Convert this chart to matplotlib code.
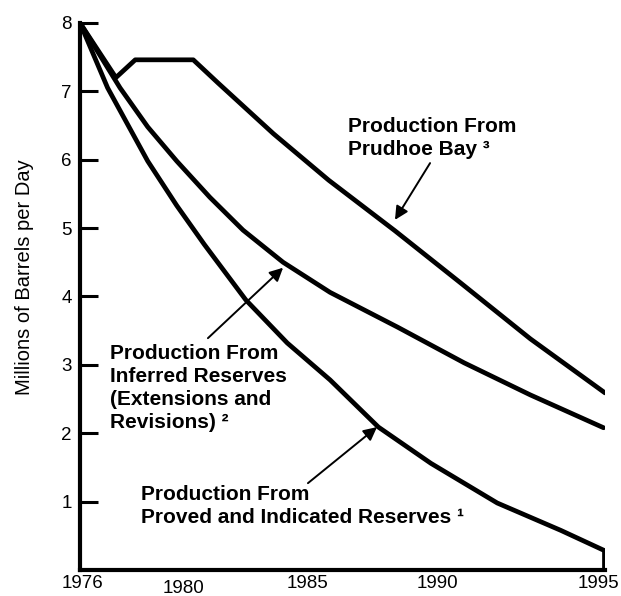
import matplotlib.pyplot as plt
from matplotlib.transforms import blended_transform_factory

plt.rcParams['font.family'] = ['Liberation Sans', 'DejaVu Sans']

# --- Data (millions of barrels per day) ---
prudhoe_years = [1976.0, 1977.3, 1978.0, 1980.1, 1981.0, 1983.0, 1985.0, 1987.4, 1989.8, 1992.3, 1995.0]
prudhoe_vals = [8.0, 7.2, 7.46, 7.46, 7.12, 6.38, 5.70, 4.96, 4.19, 3.38, 2.59]

inferred_years = [1976.0, 1977.45, 1978.45, 1979.5, 1980.7, 1981.9, 1983.35, 1985.05, 1987.5, 1989.9, 1992.3, 1994.95]
inferred_vals = [8.0, 7.05, 6.48, 5.98, 5.45, 4.97, 4.50, 4.06, 3.55, 3.03, 2.56, 2.08]

proved_years = [1976.0, 1977.0, 1978.45, 1979.5, 1980.5, 1982.0, 1983.5, 1985.05, 1986.8, 1988.7, 1991.1, 1993.4, 1994.95]
proved_vals = [8.0, 7.05, 5.98, 5.33, 4.76, 3.95, 3.32, 2.78, 2.09, 1.56, 0.98, 0.58, 0.29]

year_labels = ['1976', '1980', '1985', '1990', '1995']
y_ticks = [1, 2, 3, 4, 5, 6, 7, 8]

# --- Layout (where the printed year labels sit, and their drop below the axis) ---
year_label_pos = [1976.1, 1979.75, 1984.25, 1988.95, 1994.75]
year_label_drop = [-0.025, -0.034, -0.025, -0.025, -0.025]

fig = plt.figure(figsize=(6.21, 5.96), dpi=100)
ax = fig.add_axes([0.1288, 0.0436, 0.8454, 0.918])

line_kw = dict(color='black', lw=3.4, solid_joinstyle='round', solid_capstyle='round')
ax.plot(prudhoe_years, prudhoe_vals, **line_kw)
ax.plot(inferred_years, inferred_vals, **line_kw)
ax.plot(proved_years, proved_vals, **line_kw)
# closing stroke at the right end of the lowest curve
ax.plot([proved_years[-1], proved_years[-1]], [0, proved_vals[-1]], **line_kw)

ax.set_xlim(1976, 1995)
ax.set_ylim(0, 8)

for side in ['top', 'right']:
    ax.spines[side].set_visible(False)
for side in ['left', 'bottom']:
    ax.spines[side].set_linewidth(3.0)

ax.set_yticks(y_ticks)
ax.tick_params(axis='y', direction='in', length=13, width=2.2, pad=6, labelsize=13.5)
ax.set_xticks([])

trans = blended_transform_factory(ax.transData, ax.transAxes)
for pos, lab, drop in zip(year_label_pos, year_labels, year_label_drop):
    ax.text(pos, drop, lab, transform=trans, ha='center', va='center', fontsize=13.5)

fig.text(0.04, 0.535, 'Millions of Barrels per Day', rotation=90,
         ha='center', va='center', fontsize=14.5)

# --- Annotations ---
txt_kw = dict(fontsize=15, fontweight='bold', ha='left', va='center', linespacing=1.25)
arrow_kw = dict(arrowstyle='-|>', color='black', lw=1.4, mutation_scale=20, shrinkA=0, shrinkB=0)

ax.text(1985.7, 6.32, 'Production From\nPrudhoe Bay \u00b3', **txt_kw)
ax.annotate('', xy=(1987.4, 5.12), xytext=(1988.67, 5.95), arrowprops=arrow_kw)

ax.text(1977.1, 2.66, 'Production From\nInferred Reserves\n(Extensions and\nRevisions) \u00b2', **txt_kw)
ax.annotate('', xy=(1983.35, 4.42), xytext=(1980.63, 3.39), arrowprops=arrow_kw)

ax.text(1978.2, 0.94, 'Production From\nProved and Indicated Reserves \u00b9', **txt_kw)
ax.annotate('', xy=(1986.75, 2.09), xytext=(1984.25, 1.27), arrowprops=arrow_kw)

fig.savefig('out.png', dpi=100)
